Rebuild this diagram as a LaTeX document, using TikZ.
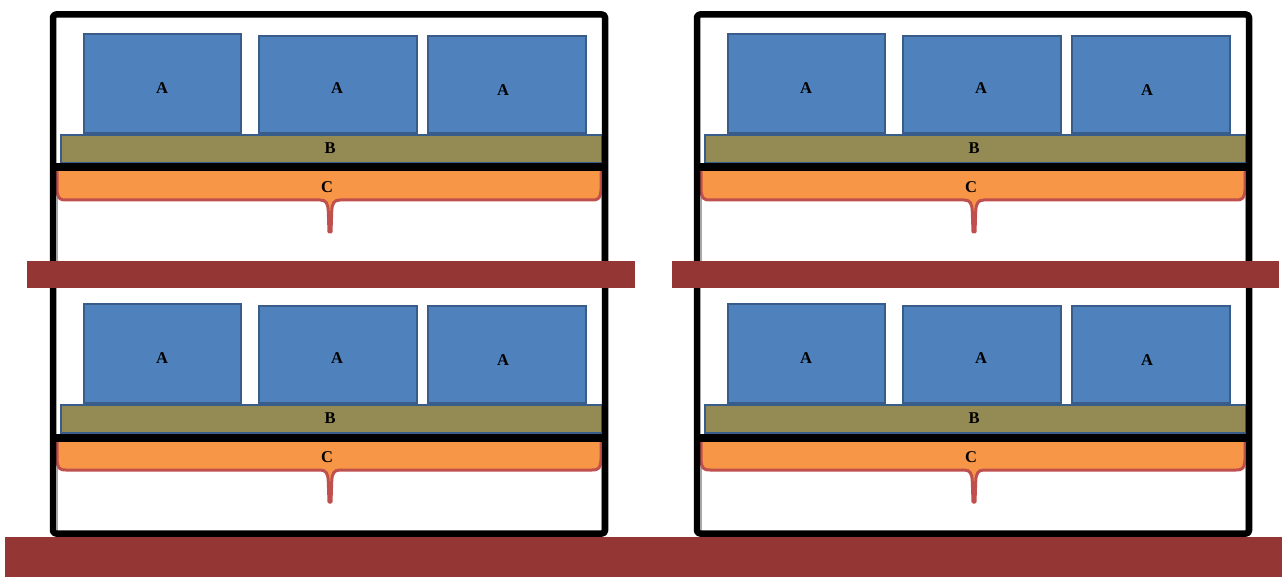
\documentclass[tikz,border=0pt]{standalone}
\usepackage{fontspec}
\setmainfont{Liberation Serif}
\definecolor{ablue}{HTML}{4F81BD}
\definecolor{ablueline}{HTML}{385D8A}
\definecolor{bolive}{HTML}{948A54}
\definecolor{corange}{HTML}{F79646}
\definecolor{cred}{HTML}{C0504D}
\definecolor{shelfbrown}{HTML}{943634}
\definecolor{thinblue}{HTML}{8EAAD6}
\tikzset{
  ablock/.style={draw=ablueline, fill=ablue, line width=2pt},
  bbar/.style={draw=ablueline, fill=bolive, line width=2pt},
  lbl/.style={font=\fontsize{16.5}{16.5}\selectfont\bfseries, inner sep=0pt},
  frame/.style={line width=6.5pt, line join=round, rounded corners=3pt},
  shelfline/.style={line width=8pt},
  cfill/.style={fill=corange},
  cstroke/.style={draw=cred, line width=3pt, line join=round, line cap=round},
  whitearea/.style={draw=thinblue, fill=white, line width=1pt},
  brownbar/.style={fill=shelfbrown},
}
\begin{document}
\begin{tikzpicture}[x=1pt,y=-1pt]
\useasboundingbox (0,0) rectangle (1282,577);
\foreach \dx/\dy/\n in {0/0/1, 644/0/2, 0/270/3, 644/270/4}{
  \begin{scope}[shift={(\dx,\dy)}]
    % white inner region under C
    \draw[whitearea] (57,170) rectangle (601,262);
    % C brace
    \fill[cfill] (57,168) -- (57,189) .. controls (57.5,198) and (59,200) .. (66,200)
      -- (320,200) .. controls (326,200) and (328,203) .. (328.3,212) -- (329,232)
      -- (331,232) -- (331.7,212) .. controls (332,203) and (334,200) .. (340,200)
      -- (592,200) .. controls (599,200) and (600.5,198) .. (601,189) -- (601,168) -- cycle;
    \draw[cstroke] (57,172) -- (57,189) .. controls (57.5,198) and (59,200) .. (66,200)
      -- (320,200) .. controls (326,200) and (328,203) .. (328.3,212) -- (329,232)
      -- (331,232) -- (331.7,212) .. controls (332,203) and (334,200) .. (340,200)
      -- (592,200) .. controls (599,200) and (600.5,198) .. (601,189) -- (601,172);
    \node[lbl] (c\n) at (327,187) {C};
    % B bar
    \path[bbar] (61,135) rectangle (602,163);
    \node[lbl] (b\n) at (330,148) {B};
    % A blocks
    \path[ablock] (84,34) rectangle (241,133);
    \path[ablock] (259,36) rectangle (417,133);
    \path[ablock] (428,36) rectangle (586,133);
    \node[lbl] (a\n-1) at (162,88) {A};
    \node[lbl] (a\n-2) at (337,88) {A};
    \node[lbl] (a\n-3) at (503,90) {A};
    % shelf black line
    \draw[shelfline] (53,167.5) -- (605,167.5);
  \end{scope}
}
% frames
\draw[frame] (53,14.5) rectangle (605,533.5);
\draw[frame] (697,14.5) rectangle (1249,533.5);
% brown shelves
\fill[brownbar] (27,261) rectangle (635,288);
\fill[brownbar] (672,261) rectangle (1279,288);
\fill[brownbar] (5,537) rectangle (1282,577);
\end{tikzpicture}
\end{document}
